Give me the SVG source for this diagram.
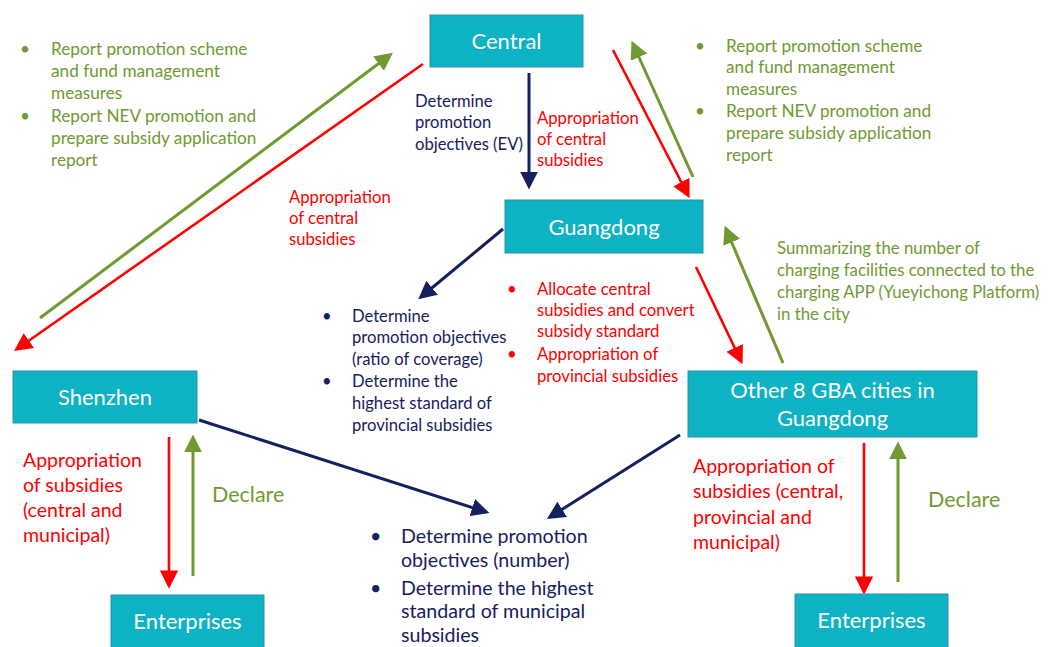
<svg xmlns="http://www.w3.org/2000/svg" width="1059" height="647" viewBox="0 0 1059 647">
<defs>
<style>
text{font-family:Lato,"Open Sans","Liberation Sans",sans-serif}
.box{fill:#0DB2C4;stroke:#2C93A0;stroke-width:1}
.bl{fill:#fff;font-size:22px;text-anchor:middle}
.g{fill:#6F9A31;font-size:17.2px}
.r{fill:#FF0000;font-size:16.7px}
.n{fill:#15205F;font-size:16.6px}
.rl{fill:#FF0000;font-size:19.5px}
.nl{fill:#15205F;font-size:19.6px}
.gl{fill:#6F9A31;font-size:21.5px}
.ln{fill:none;stroke-width:3}
.ln.n2{stroke:#15205F}
.ln.r2{stroke:#FF0000;stroke-width:2.6}
.ln.g2{stroke:#6F9A31}
</style>
<marker id="an" viewBox="0 0 10 10" refX="8" refY="5" markerWidth="6" markerHeight="6" markerUnits="strokeWidth" orient="auto"><path d="M0,0L10,5L0,10z" fill="#15205F"/></marker>
<marker id="ar" viewBox="0 0 10 10" refX="8" refY="5" markerWidth="7" markerHeight="7" markerUnits="strokeWidth" orient="auto"><path d="M0,0L10,5L0,10z" fill="#FF0000"/></marker>
<marker id="ag" viewBox="0 0 10 10" refX="8" refY="5" markerWidth="6" markerHeight="6" markerUnits="strokeWidth" orient="auto"><path d="M0,0L10,5L0,10z" fill="#6F9A31"/></marker>
</defs>

<g id="connectors">
<line class="ln n2" x1="529" y1="73" x2="529" y2="186" marker-end="url(#an)"/>
<line class="ln r2" x1="613" y1="50" x2="688" y2="195" marker-end="url(#ar)"/>
<line class="ln g2" x1="693" y1="177" x2="633" y2="44" marker-end="url(#ag)"/>
<line class="ln g2" x1="40" y1="318" x2="390" y2="55" marker-end="url(#ag)"/>
<line class="ln r2" x1="423" y1="64" x2="17" y2="349" marker-end="url(#ar)"/>
<line class="ln n2" x1="503" y1="229" x2="421" y2="297" marker-end="url(#an)"/>
<line class="ln r2" x1="696" y1="267" x2="741" y2="361" marker-end="url(#ar)"/>
<line class="ln g2" x1="783" y1="363" x2="726" y2="229" marker-end="url(#ag)"/>
<line class="ln n2" x1="199" y1="420" x2="486" y2="512" marker-end="url(#an)"/>
<line class="ln n2" x1="680" y1="435" x2="550" y2="517" marker-end="url(#an)"/>
<line class="ln r2" x1="169" y1="437" x2="169" y2="585" marker-end="url(#ar)"/>
<line class="ln g2" x1="193" y1="576" x2="193" y2="438" marker-end="url(#ag)"/>
<line class="ln r2" x1="864" y1="443" x2="864" y2="591" marker-end="url(#ar)"/>
<line class="ln g2" x1="898" y1="582" x2="898" y2="445" marker-end="url(#ag)"/>
</g>

<g id="central"><rect class="box" x="430" y="15" width="153" height="52"/><text class="bl" x="506.5" y="49">Central</text></g>
<g id="guangdong"><rect class="box" x="505" y="200" width="198" height="53"/><text class="bl" x="604" y="235">Guangdong</text></g>
<g id="shenzhen"><rect class="box" x="13" y="371" width="184" height="52"/><text class="bl" x="105" y="405">Shenzhen</text></g>
<g id="other8"><rect class="box" x="688" y="371" width="289" height="66"/><text class="bl" x="832.5" y="398">Other 8 GBA cities in</text><text class="bl" x="832.5" y="426">Guangdong</text></g>
<g id="enterprises-left"><rect class="box" x="111" y="595" width="153" height="53"/><text class="bl" x="187.5" y="629">Enterprises</text></g>
<g id="enterprises-right"><rect class="box" x="795" y="594" width="153" height="54"/><text class="bl" x="871.5" y="628">Enterprises</text></g>

<g id="label-top-left" class="g">
<text x="20" y="55">•</text><text x="51" y="55">Report promotion scheme</text>
<text x="51" y="77">and fund management</text>
<text x="51" y="99">measures</text>
<text x="20" y="122">•</text><text x="51" y="122">Report NEV promotion and</text>
<text x="51" y="144">prepare subsidy application</text>
<text x="51" y="166">report</text>
</g>
<g id="label-top-right" class="g">
<text x="695" y="52">•</text><text x="726" y="52">Report promotion scheme</text>
<text x="726" y="73">and fund management</text>
<text x="726" y="95">measures</text>
<text x="695" y="117">•</text><text x="726" y="117">Report NEV promotion and</text>
<text x="726" y="139">prepare subsidy application</text>
<text x="726" y="161">report</text>
</g>
<g id="label-central-navy" class="n">
<text x="415" y="107">Determine</text>
<text x="415" y="128">promotion</text>
<text x="415" y="150">objectives (EV)</text>
</g>
<g id="label-central-red" class="r">
<text x="537" y="124">Appropriation</text>
<text x="537" y="145">of central</text>
<text x="537" y="166">subsidies</text>
</g>
<g id="label-left-red" class="r">
<text x="289" y="203">Appropriation</text>
<text x="289" y="224">of central</text>
<text x="289" y="245">subsidies</text>
</g>
<g id="label-guangdong-navy" class="n">
<text x="322" y="322">•</text><text x="352" y="322">Determine</text>
<text x="352" y="343">promotion objectives</text>
<text x="352" y="365">(ratio of coverage)</text>
<text x="322" y="387">•</text><text x="352" y="387">Determine the</text>
<text x="352" y="409">highest standard of</text>
<text x="352" y="431">provincial subsidies</text>
</g>
<g id="label-guangdong-red" class="r">
<text x="507" y="295">•</text><text x="537" y="295">Allocate central</text>
<text x="537" y="316">subsidies and convert</text>
<text x="537" y="337">subsidy standard</text>
<text x="507" y="360">•</text><text x="537" y="360">Appropriation of</text>
<text x="537" y="382">provincial subsidies</text>
</g>
<g id="label-summary" class="g">
<text x="777" y="254" style="font-size:16.8px">Summarizing the number of</text>
<text x="777" y="276" style="font-size:16.8px">charging facilities connected to the</text>
<text x="777" y="298" style="font-size:16.8px">charging APP (Yueyichong Platform)</text>
<text x="777" y="320" style="font-size:16.8px">in the city</text>
</g>
<g id="label-shenzhen-red" class="rl">
<text x="23" y="467">Appropriation</text>
<text x="23" y="492">of subsidies</text>
<text x="23" y="517">(central and</text>
<text x="23" y="542">municipal)</text>
</g>
<text class="gl" x="212" y="502">Declare</text>
<g id="label-bottom-navy" class="nl">
<text x="370" y="543">•</text><text x="401" y="543">Determine promotion</text>
<text x="401" y="567">objectives (number)</text>
<text x="370" y="595">•</text><text x="401" y="595">Determine the highest</text>
<text x="401" y="618">standard of municipal</text>
<text x="401" y="642">subsidies</text>
</g>
<g id="label-other8-red" class="rl">
<text x="693" y="473">Appropriation of</text>
<text x="693" y="498">subsidies (central,</text>
<text x="693" y="524">provincial and</text>
<text x="693" y="549">municipal)</text>
</g>
<text class="gl" x="928" y="507">Declare</text>
</svg>
